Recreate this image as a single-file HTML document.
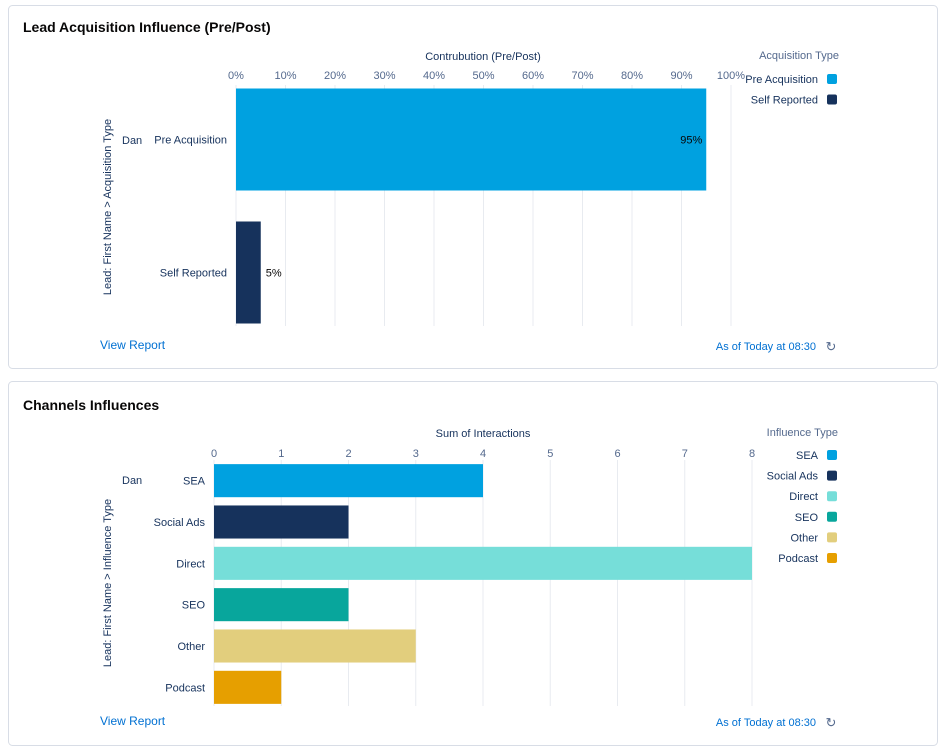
<!DOCTYPE html>
<html><head><meta charset="utf-8"><style>
html,body{margin:0;padding:0;background:#fff;width:945px;height:751px;overflow:hidden;font-family:"Liberation Sans",sans-serif}
svg{display:block}
</style></head><body>
<svg id="s" width="945" height="751" xmlns="http://www.w3.org/2000/svg" font-family="Liberation Sans, sans-serif">
<rect x="8.5" y="5.5" width="929" height="363" rx="4" fill="#fff" stroke="#d8dde6"/>
<rect x="8.5" y="381.5" width="929" height="364" rx="4" fill="#fff" stroke="#d8dde6"/>
<text x="23" y="32" font-size="14" font-weight="bold" fill="#080707">Lead Acquisition Influence (Pre/Post)</text>
<text x="23" y="410" font-size="14" font-weight="bold" fill="#080707">Channels Influences</text>
<text x="483" y="60" font-size="11" text-anchor="middle" fill="#16325c">Contrubution (Pre/Post)</text>
<text x="483" y="437" font-size="11" text-anchor="middle" fill="#16325c">Sum of Interactions</text>
<text transform="translate(111,207) rotate(-90)" font-size="11" text-anchor="middle" fill="#16325c">Lead: First Name &gt; Acquisition Type</text>
<text transform="translate(111,583) rotate(-90)" font-size="11" text-anchor="middle" fill="#16325c">Lead: First Name &gt; Influence Type</text>
<text x="122" y="144" font-size="11" fill="#16325c">Dan</text>
<text x="122" y="484" font-size="11" fill="#16325c">Dan</text>
<text x="839" y="59" font-size="11" text-anchor="end" fill="#54698d">Acquisition Type</text>
<text x="838" y="436" font-size="11" text-anchor="end" fill="#54698d">Influence Type</text>
<text x="100" y="349" font-size="12" fill="#0070d2">View Report</text>
<text x="100" y="725" font-size="12" fill="#0070d2">View Report</text>
<text x="816" y="350" font-size="11" text-anchor="end" fill="#0070d2">As of Today at 08:30</text>
<text x="816" y="726" font-size="11" text-anchor="end" fill="#0070d2">As of Today at 08:30</text>
<text x="831" y="351" font-size="13" text-anchor="middle" fill="#54698d">↻</text>
<text x="831" y="727" font-size="13" text-anchor="middle" fill="#54698d">↻</text>
<g id="g1"></g><g id="g2"></g>
</svg>
<script>
const preCats=["Pre Acquisition","Self Reported"];
const preVals=[95,5];
const preColors=["#00a1e0","#16325c"];
const preTicks=[0,10,20,30,40,50,60,70,80,90,100];
const chCats=["SEA","Social Ads","Direct","SEO","Other","Podcast"];
const chVals=[4,2,8,2,3,1];
const chColors=["#00a1e0","#16325c","#76ded9","#08a69c","#e2ce7d","#e69f00"];
const chTicks=[0,1,2,3,4,5,6,7,8];
const NS="http://www.w3.org/2000/svg";
function mk(p,t,a,txt){const e=document.createElementNS(NS,t);for(const k in a)e.setAttribute(k,a[k]);if(txt!==undefined)e.textContent=txt;p.appendChild(e);return e;}
function chart(g,cats,vals,colors,ticks,x0,x1,max,y0,y1,barFrac,tickY,gTop,gBot,fmt,showVals,legY,legStep){
  const sx=v=>x0+(v/max)*(x1-x0);
  const band=(y1-y0)/cats.length;
  ticks.forEach(t=>{
    const l=mk(g,"line",{x1:sx(t),x2:sx(t),y1:gTop,y2:gBot,stroke:"#e8ebf0","stroke-width":1});
    
    
    const tx=mk(g,"text",{x:sx(t),y:tickY,"font-size":11,"text-anchor":"middle",fill:"#54698d"},fmt(t));
    
    
  });
  cats.forEach((c,i)=>{
    const bh=band*barFrac, by=y0+i*band+(band-bh)/2;
    const r=mk(g,"rect",{x:sx(0),y:by,width:sx(vals[i])-sx(0),height:bh,fill:colors[i]});
    
    
    const cl=mk(g,"text",{x:x0-9,y:by+bh/2+4,"font-size":11,"text-anchor":"end",fill:"#16325c"},c);
    
    
    if(showVals){
      const inside=vals[i]>50;
      const vl=mk(g,"text",{x:inside?sx(vals[i])-4:sx(vals[i])+5,y:by+bh/2+4,"font-size":11,"text-anchor":inside?"end":"start",fill:"#080707"},vals[i]+"%");
      
      
    }
    const ly=legY+i*legStep;
    const lt=mk(g,"text",{x:818,y:ly+4,"font-size":11,"text-anchor":"end",fill:"#16325c"},c);
    
    
    const ls=mk(g,"rect",{x:827,y:ly-5,width:10,height:10,rx:2,fill:colors[i]});
    
    
  });
}
chart(document.getElementById("g1"),preCats,preVals,preColors,preTicks,236,731,100,73,339,0.767,79,85,326,t=>t+"%",true,79,20.5);
chart(document.getElementById("g2"),chCats,chVals,chColors,chTicks,214,752,8,460,708,0.8,457,460,706,t=>String(t),false,455,20.6);
</script>
</body></html>
